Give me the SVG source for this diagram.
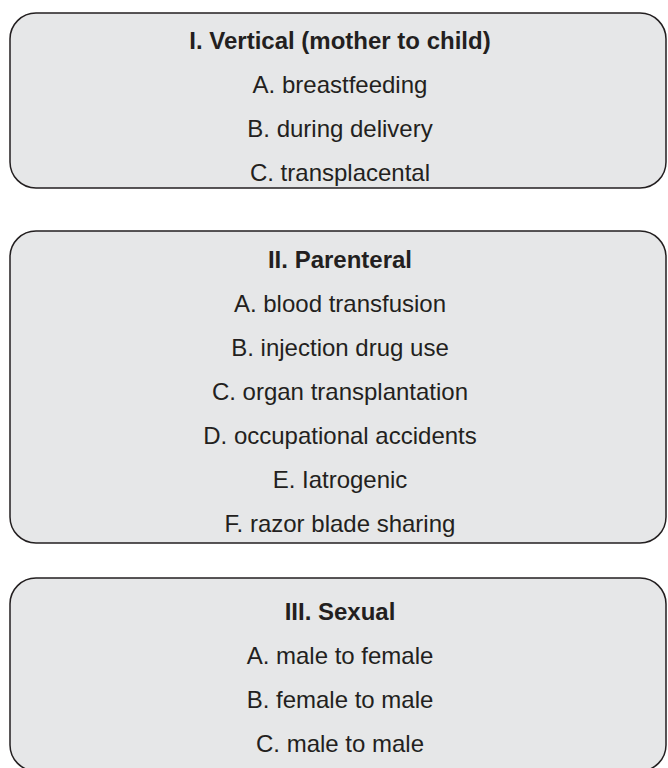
<svg xmlns="http://www.w3.org/2000/svg" width="668" height="768" viewBox="0 0 668 768">
<style>
.box{fill:#e6e7e8;stroke:#231f20;stroke-width:1.5}
text{font-family:"Liberation Sans",Arial,sans-serif;font-size:24px;fill:#231f20;text-anchor:middle}
.t{font-weight:bold}
</style>
<rect width="668" height="768" fill="#ffffff"/>
<g id="node-vertical">
<rect class="box" x="10" y="13" width="656" height="175" rx="26" ry="26"/>
<text class="t" x="340" y="49">I. Vertical (mother to child)</text>
<text x="340" y="93">A. breastfeeding</text>
<text x="340" y="137">B. during delivery</text>
<text x="340" y="181">C. transplacental</text>
</g>
<g id="node-parenteral">
<rect class="box" x="10" y="231" width="656" height="312" rx="26" ry="26"/>
<text class="t" x="340" y="268">II. Parenteral</text>
<text x="340" y="312">A. blood transfusion</text>
<text x="340" y="356">B. injection drug use</text>
<text x="340" y="400">C. organ transplantation</text>
<text x="340" y="444">D. occupational accidents</text>
<text x="340" y="488">E. Iatrogenic</text>
<text x="340" y="532">F. razor blade sharing</text>
</g>
<g id="node-sexual">
<rect class="box" x="10" y="578" width="656" height="193" rx="26" ry="26"/>
<text class="t" x="340" y="620">III. Sexual</text>
<text x="340" y="664">A. male to female</text>
<text x="340" y="708">B. female to male</text>
<text x="340" y="752">C. male to male</text>
</g>
<g id="connectors"></g>
</svg>
